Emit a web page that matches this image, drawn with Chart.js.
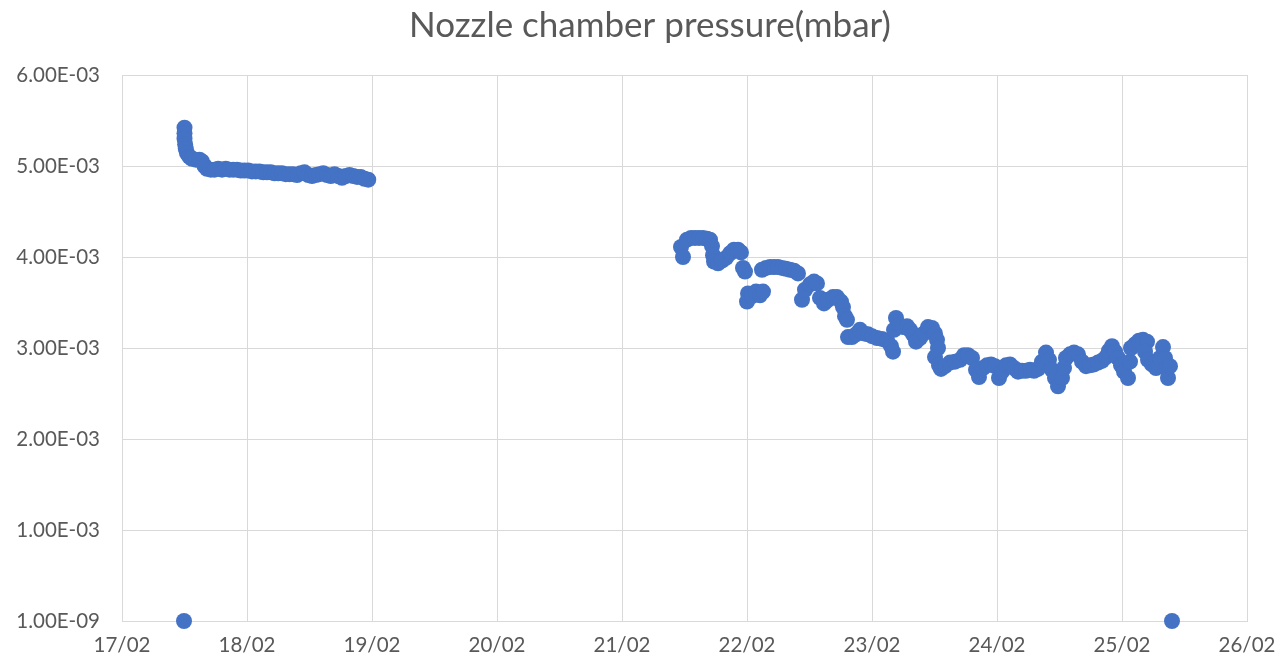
<!DOCTYPE html>
<html>
<head>
<meta charset="utf-8">
<script src="https://cdn.jsdelivr.net/npm/chart.js@4/dist/chart.umd.min.js"></script>
<style>
html,body{margin:0;padding:0;background:#fff;}
#wrap{width:1281px;height:667px;}
</style>
</head>
<body>
<div id="wrap"><canvas id="c" width="1281" height="667"></canvas></div>
<script>
// Day of month (February), fractional
const run1Days = [17.50,17.50,17.50,17.505,17.51,17.52,17.54,17.56,17.59,17.62,17.64,17.66,17.68,17.71,17.74,17.77,17.80,17.83,17.86,17.89,17.92,17.95,17.98,18.01,18.04,18.07,18.10,18.13,18.16,18.19,18.22,18.25,18.28,18.31,18.34,18.37,18.40,18.43,18.46,18.49,18.52,18.55,18.58,18.61,18.64,18.67,18.70,18.73,18.76,18.79,18.82,18.85,18.88,18.91,18.94,18.97];
// Pressure in units of 1e-3 mbar
const run1Pressure = [5.42,5.36,5.30,5.24,5.19,5.14,5.10,5.08,5.07,5.07,5.05,5.00,4.97,4.96,4.96,4.97,4.96,4.97,4.96,4.96,4.96,4.95,4.95,4.95,4.94,4.94,4.94,4.93,4.93,4.93,4.92,4.92,4.92,4.91,4.91,4.91,4.90,4.92,4.93,4.90,4.89,4.90,4.91,4.92,4.90,4.89,4.91,4.89,4.87,4.89,4.90,4.89,4.88,4.88,4.86,4.85];

const run2Days = [21.472,21.488,21.52,21.552,21.584,21.616,21.648,21.68,21.704,21.72,21.728,21.736,21.768,21.80,21.832,21.864,21.896,21.928,21.952,21.968,21.984,22.008,22.00,22.04,22.072,22.104,22.128,22.12,22.152,22.184,22.216,22.248,22.28,22.312,22.344,22.376,22.408,22.44,22.464,22.504,22.536,22.56,22.584,22.616,22.648,22.688,22.72,22.752,22.768,22.784,22.80,22.808,22.84,22.872,22.904,22.936,22.968,23.00,23.04,23.08,23.12,23.152,23.168,23.176,23.192,23.216,23.248,23.28,23.304,23.328,23.352,23.384,23.416,23.448,23.48,23.504,23.52,23.528,23.504,23.536,23.552,23.584,23.624,23.664,23.704,23.736,23.768,23.80,23.832,23.856,23.888,23.92,23.952,23.984,24.016,24.04,24.072,24.104,24.136,24.168,24.20,24.232,24.264,24.296,24.328,24.36,24.392,24.416,24.44,24.464,24.488,24.52,24.536,24.552,24.584,24.616,24.648,24.68,24.712,24.744,24.776,24.808,24.84,24.872,24.896,24.92,24.944,24.968,24.992,25.016,25.048,25.064,25.072,25.104,25.136,25.168,25.20,25.184,25.208,25.24,25.272,25.304,25.328,25.344,25.36,25.368,25.384];
const run2Pressure = [4.11,4.00,4.19,4.21,4.21,4.21,4.21,4.20,4.19,4.12,4.02,3.95,3.93,3.96,3.99,4.04,4.08,4.08,4.05,3.88,3.84,3.60,3.51,3.57,3.62,3.58,3.62,3.86,3.88,3.89,3.89,3.89,3.88,3.87,3.86,3.85,3.82,3.53,3.64,3.70,3.73,3.71,3.55,3.49,3.53,3.56,3.56,3.51,3.45,3.35,3.31,3.12,3.12,3.15,3.20,3.16,3.15,3.13,3.11,3.10,3.08,3.02,2.96,3.20,3.33,3.25,3.23,3.24,3.20,3.15,3.07,3.11,3.16,3.23,3.22,3.16,3.09,3.00,2.90,2.81,2.77,2.80,2.84,2.85,2.87,2.92,2.92,2.89,2.76,2.68,2.78,2.81,2.82,2.80,2.67,2.74,2.81,2.82,2.78,2.74,2.75,2.75,2.76,2.75,2.77,2.85,2.95,2.87,2.76,2.67,2.58,2.67,2.78,2.89,2.93,2.95,2.93,2.85,2.80,2.81,2.82,2.84,2.86,2.90,2.97,3.02,2.96,2.89,2.81,2.74,2.67,2.85,3.00,3.04,3.08,3.09,3.07,2.96,2.87,2.82,2.78,2.89,3.01,2.89,2.78,2.67,2.80];

// Readings logged at 1.00E-09 mbar (gauge floor)
const floorDays = [17.496, 25.40];
const floorPressure = [1e-9, 1e-9];

const chartTitle = 'Nozzle chamber pressure(mbar)';
const xTickLabels = ['17/02','18/02','19/02','20/02','21/02','22/02','23/02','24/02','25/02','26/02'];
const yTickLabels = ['1.00E-09','1.00E-03','2.00E-03','3.00E-03','4.00E-03','5.00E-03','6.00E-03'];

const points = [];
run1Days.forEach((d,i)=>points.push({x:d, y:run1Pressure[i]*1e-3}));
run2Days.forEach((d,i)=>points.push({x:d, y:run2Pressure[i]*1e-3}));
floorDays.forEach((d,i)=>points.push({x:d, y:floorPressure[i]}));

const FONT = 'Lato, "Open Sans", sans-serif';
const TXT = '#595959';
const GRID = '#d9d9d9';

// Title drawn centred at the same spot as in the original figure
const titlePlugin = {
  id: 'offsetTitle',
  afterDraw(chart) {
    const ctx = chart.ctx;
    ctx.save();
    ctx.fillStyle = TXT;
    ctx.font = '35px ' + FONT;
    ctx.textAlign = 'center';
    ctx.textBaseline = 'middle';
    ctx.fillText(chartTitle, 650, 26);
    ctx.restore();
  }
};

new Chart(document.getElementById('c'), {
  type: 'scatter',
  data: {
    datasets: [{
      label: chartTitle,
      data: points,
      backgroundColor: '#4472C4',
      borderColor: '#4472C4',
      pointRadius: 8,
      pointBorderWidth: 0,
      pointHoverRadius: 8,
      clip: false
    }]
  },
  plugins: [titlePlugin],
  options: {
    responsive: false,
    animation: false,
    events: [],
    layout: { padding: { left: 0, right: 34, top: 75, bottom: 10 } },
    plugins: {
      legend: { display: false },
      tooltip: { enabled: false },
      title: { display: false }
    },
    scales: {
      x: {
        type: 'linear',
        min: 17, max: 26,
        afterFit: (s) => { s.height = 36; s.paddingLeft = 0; s.paddingRight = 0; },
        ticks: {
          stepSize: 1,
          color: TXT,
          font: { family: FONT, size: 20.5 },
          padding: 12,
          maxRotation: 0,
          callback: (v) => xTickLabels[Math.round(v - 17)] ?? ''
        },
        grid: { color: GRID, lineWidth: 1, drawTicks: false },
        border: { color: GRID, width: 1 }
      },
      y: {
        min: 0, max: 0.006,
        afterFit: (s) => { s.width = 122; s.paddingTop = 0; s.paddingBottom = 0; },
        ticks: {
          stepSize: 0.001,
          color: TXT,
          font: { family: FONT, size: 20.5 },
          padding: 22,
          callback: (v) => yTickLabels[Math.round(v * 1000)] ?? ''
        },
        grid: { color: GRID, lineWidth: 1, drawTicks: false },
        border: { color: GRID, width: 1 }
      }
    }
  }
});
</script>
</body>
</html>
